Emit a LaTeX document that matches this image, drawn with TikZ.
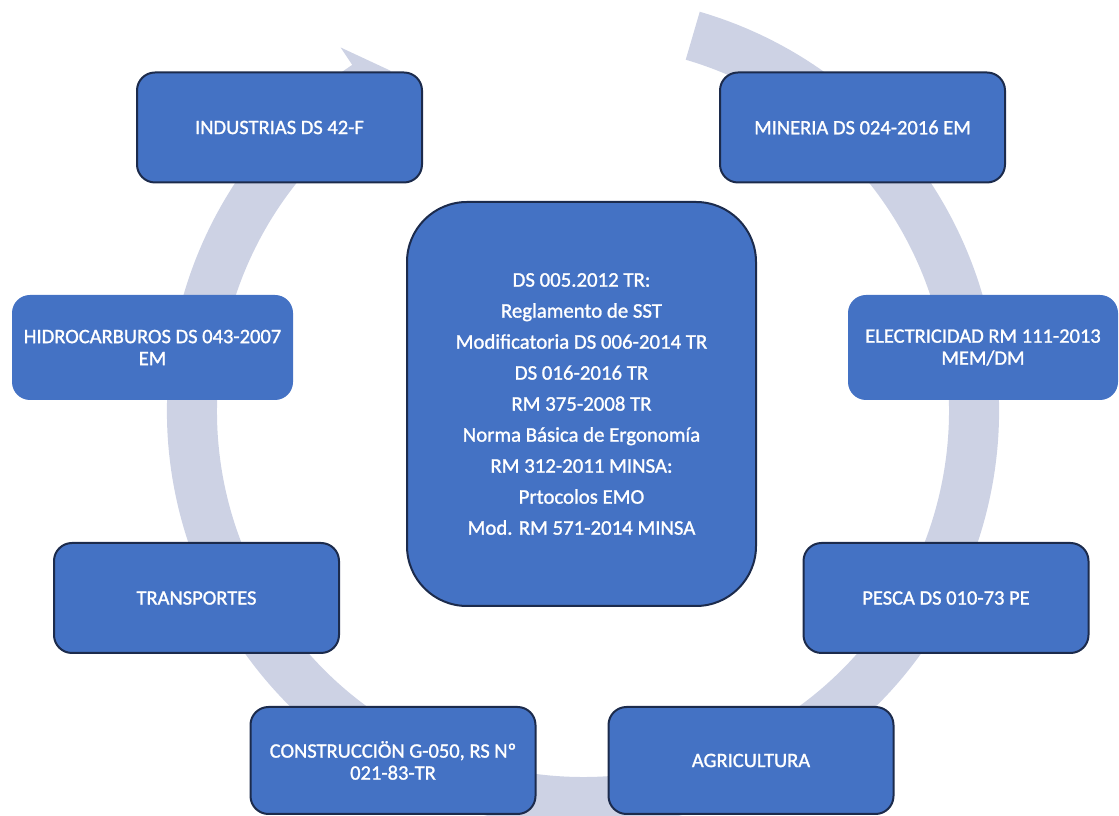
\documentclass[tikz,border=0pt]{standalone}
\usepackage{fontspec}
\setmainfont{Carlito}[RawFeature={embolden=1.2}]
\definecolor{boxfill}{HTML}{4472C4}
\definecolor{boxline}{HTML}{1C2B4C}
\definecolor{ringc}{HTML}{CDD2E4}
\tikzset{
  outerbox/.style={rectangle, rounded corners=18pt, fill=boxfill, draw=boxline, line width=2pt,
    minimum width=285pt, minimum height=110pt, inner sep=0pt, align=center, text=white,
    font=\fontsize{20.5}{22}\selectfont},
  plainbox/.style={outerbox, draw=none},
  centerbox/.style={rectangle, rounded corners=60pt, fill=boxfill, draw=boxline, line width=2pt,
    minimum width=349pt, minimum height=404pt, inner sep=0pt, align=center, text=white,
    font=\fontsize{20.8}{31}\selectfont}
}
\begin{document}
\begin{tikzpicture}[x=1pt,y=1pt]
\useasboundingbox (0,0) rectangle (1119,816);
\clip (0,0) rectangle (1119,816);
\coordinate (C) at (583,405);
% circular arrow
\fill[ringc] ([shift={(73.7:416)}]C) arc[start angle=73.7, end angle=-236.3, radius=416pt]
  -- ([shift={(123.7:437)}]C) -- ([shift={(119.5:391)}]C) -- ([shift={(123.7:345)}]C)
  -- ([shift={(123.7:366)}]C) arc[start angle=-236.3, end angle=73.7, radius=366pt] -- cycle;
% boxes
\node[outerbox] (ind) at (279.5,688.5) {INDUSTRIAS DS 42-F};
\node[outerbox] (min) at (862.5,688.5) {MINERIA DS 024-2016 EM};
\node[plainbox, minimum width=281pt, minimum height=105pt] (hid) at (152.5,468.5) {HIDROCARBUROS DS 043-2007\\EM};
\node[plainbox, minimum width=270pt, minimum height=105pt] (ele) at (983,468.5) {ELECTRICIDAD RM 111-2013\\MEM/DM};
\node[outerbox] (tra) at (196.5,218) {TRANSPORTES};
\node[outerbox] (pes) at (946,218) {PESCA DS 010-73 PE};
\node[outerbox, minimum height=107pt] (con) at (393,55.5) {CONSTRUCCIÖN G-050, RS Nº\\021-83-TR};
\node[outerbox, minimum height=107pt] (agr) at (751,55.5) {AGRICULTURA};
\node[centerbox] (cen) at (581.5,412) {DS 005.2012 TR:\\Reglamento de SST\\Modificatoria DS 006-2014 TR\\DS 016-2016 TR\\RM 375-2008 TR\\Norma Básica de Ergonomía\\RM 312-2011 MINSA:\\Prtocolos EMO\\Mod. RM 571-2014 MINSA};
\end{tikzpicture}
\end{document}
